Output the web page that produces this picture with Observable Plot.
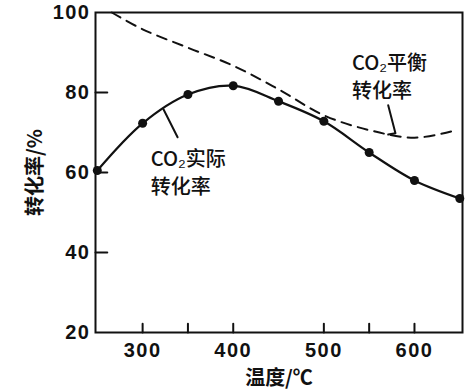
<!DOCTYPE html>
<html>
<head>
<meta charset="utf-8">
<script src="https://cdn.jsdelivr.net/npm/d3@7"></script>
<script src="https://cdn.jsdelivr.net/npm/@observablehq/plot@0.6"></script>
<style>
  html, body { margin: 0; padding: 0; background: #fff; }
  #chart svg { display: block; }
</style>
</head>
<body>
<div id="chart"></div>
<script>
// Temperatures (°C) and CO2 actual conversion (%) — measured points
const actualTemps = [250, 300, 350, 400, 450, 500, 550, 600, 650];
const actualValues = [60.5, 72.3, 79.5, 81.7, 77.8, 72.8, 65, 58, 53.5];

// CO2 equilibrium conversion (%) — dashed curve
const eqTemps = [266, 300, 350, 400, 450, 500, 550, 600, 645];
const eqValues = [100, 95.8, 91.2, 86.7, 80.8, 74.3, 70.6, 68.7, 70.5];

// Axis ticks
const yTicks = [40, 60, 80];
const yTickLabels = [20, 40, 60, 80, 100];
const xTickMarks = [300, 350, 400, 500, 550, 600];
const xTickLabels = [300, 400, 500, 600];

// Annotations
const eqLabel = {t: 531, v: 90.5, text: "CO₂平衡\n转化率"};
const eqLeaderT = [571, 579, 571];
const eqLeaderV = [76.8, 69.8, 69.5];
const actLabel = {t: 309, v: 66.5, text: "CO₂实际\n转化率"};
const actLeaderT = [323, 338.6];
const actLeaderV = [75.8, 68.8];

const xDomain = [248, 653];
const yDomain = [20, 100];
const yTickLen = 13;  // inward tick length, in °C units
const xTickLen = 2.2; // inward tick length, in % units

const actual = actualTemps.map((t, i) => ({t, v: actualValues[i]}));
const eq = eqTemps.map((t, i) => ({t, v: eqValues[i]}));
const eqLeader = eqLeaderT.map((t, i) => ({t, v: eqLeaderV[i]}));
const actLeader = actLeaderT.map((t, i) => ({t, v: actLeaderV[i]}));

// tick segments as two-point polylines
const yTickSegs = yTicks.flatMap(v => [
  {id: "y" + v, t: xDomain[0], v},
  {id: "y" + v, t: xDomain[0] + yTickLen, v}
]);
const xTickSegs = xTickMarks.flatMap(t => [
  {id: "x" + t, t, v: yDomain[0]},
  {id: "x" + t, t, v: yDomain[0] + xTickLen}
]);

const numFont = {fontFamily: "Liberation Sans, Arial, sans-serif", fontSize: 20, fontWeight: "bold"};
const cjkFont = "Noto Sans CJK SC, sans-serif";

const chart = Plot.plot({
  width: 465,
  height: 392,
  marginLeft: 95,
  marginRight: 3,
  marginTop: 12,
  marginBottom: 60,
  style: {background: "#fff", color: "#111"},
  x: {domain: xDomain},
  y: {domain: yDomain},
  marks: [
    Plot.frame({stroke: "#111", strokeWidth: 2}),
    // inward ticks
    Plot.line(yTickSegs, {x: "t", y: "v", z: "id", stroke: "#111", strokeWidth: 2}),
    Plot.line(xTickSegs, {x: "t", y: "v", z: "id", stroke: "#111", strokeWidth: 2}),
    // tick labels
    Plot.axisY(yTickLabels, {tickSize: 0, tickPadding: 5, ...numFont, fill: "#111",
      label: "转化率/%", labelAnchor: "center", labelOffset: 68, labelArrow: "none"}),
    Plot.axisX(xTickLabels, {tickSize: 0, tickPadding: 10, ...numFont, fill: "#111",
      label: "温度/℃", labelAnchor: "center", labelOffset: 52, labelArrow: "none"}),
    // curves
    Plot.line(eq, {x: "t", y: "v", curve: "catmull-rom", stroke: "#111", strokeWidth: 2, strokeDasharray: "10,7"}),
    Plot.line(actual, {x: "t", y: "v", curve: "catmull-rom", stroke: "#111", strokeWidth: 2.2}),
    Plot.dot(actual, {x: "t", y: "v", r: 4.5, fill: "#111", stroke: "none"}),
    // leaders
    Plot.line(eqLeader, {x: "t", y: "v", stroke: "#111", strokeWidth: 2}),
    Plot.line(actLeader, {x: "t", y: "v", stroke: "#111", strokeWidth: 2}),
    // annotation text
    Plot.text([eqLabel], {x: "t", y: "v", text: "text", textAnchor: "start", lineAnchor: "top",
      fontFamily: cjkFont, fontSize: 20, lineHeight: 1.4, fill: "#111", fontWeight: 500}),
    Plot.text([actLabel], {x: "t", y: "v", text: "text", textAnchor: "start", lineAnchor: "top",
      fontFamily: cjkFont, fontSize: 20, lineHeight: 1.4, fill: "#111", fontWeight: 500})
  ]
});

// style axis titles and tick labels
chart.querySelectorAll("[aria-label='y-axis label'] text, [aria-label='x-axis label'] text").forEach(t => {
  t.setAttribute("font-family", cjkFont);
  t.setAttribute("font-size", "20");
  t.setAttribute("font-weight", "bold");
});
chart.querySelectorAll("[aria-label='y-axis tick label'] text, [aria-label='x-axis tick label'] text").forEach(t => {
  t.setAttribute("letter-spacing", "1.5");
});
document.getElementById("chart").append(chart);
</script>
</body>
</html>
